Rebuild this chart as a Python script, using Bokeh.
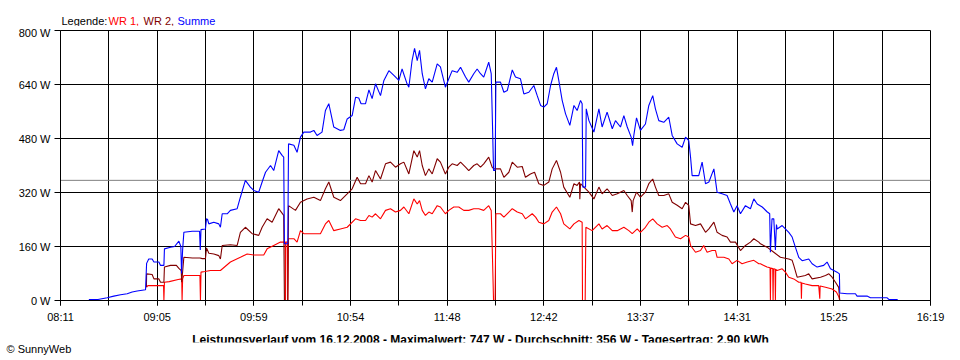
from bokeh.plotting import figure
from bokeh.layouts import column
from bokeh.models import FixedTicker, Span, PrintfTickFormatter, Range1d, Title
from bokeh.core.properties import value
from bokeh.embed import file_html
from bokeh.resources import INLINE

# time axis in minutes after midnight
X_START = 491   # 08:11
X_END = 979     # 16:19
X_TICK_LABELS = ["08:11", "09:05", "09:59", "10:54", "11:48",
                 "12:42", "13:37", "14:31", "15:25", "16:19"]
Y_TICKS = [0, 160, 320, 480, 640, 800]
AVERAGE_W = 356
LEGEND_TEXTS = ["Legende:", "WR 1,", "WR 2,", "Summe"]
LEGEND_COLORS = ["black", "#ff0000", "#800000", "#0000ff"]
FOOTER = ("Leistungsverlauf vom 16.12.2008 - Maximalwert: 747 W - "
          "Durchschnitt: 356 W - Tagesertrag: 2,90 kWh")
COPYRIGHT = "\u00a9 SunnyWeb"

# (minute, watt)
WR1 = [(539.2,39),(540.0,44),(548.8,44),(549.0,0),(549.3,54),(552.0,56),(557.0,62),(559.0,64),(559.2,0),
       (559.5,64),(560.2,74),(569.2,74),(569.5,0),(569.8,84),(572.0,86),(575.1,89),(580.7,89),(586.3,114),
       (591.9,128),(595.7,138),(599.4,135),(605.0,135),(606.9,153),(610.6,163),(614.4,173),(617.0,173),
       (617.2,0),(617.4,173),(618.3,173),(618.5,0),(618.8,183),(621.9,183),(623.7,173),(625.6,207),
       (627.5,198),(636.8,198),(639.6,227),(641.5,237),(644.3,207),(648.0,212),(651.8,217),(656.5,242),
       (659.3,237),(662.1,237),(664.0,252),(665.8,247),(667.7,257),(670.5,242),(673.3,267),(676.1,272),
       (678.9,262),(681.7,267),(683.6,277),(686.4,257),(689.2,301),(691.1,286),(692.4,296),(693.9,267),
       (695.7,252),(697.6,262),(699.5,257),(702.3,281),(704.1,277),(706.9,257),(708.8,267),(711.6,277),
       (714.4,277),(717.2,267),(720.0,267),(722.8,272),(725.6,272),(728.4,267),(731.2,281),(732.6,267),
       (733.3,128),(733.9,0),(734.8,0),(735.2,257),(737.8,257),(739.7,247),(744.4,272),(747.2,262),
       (750.0,257),(751.8,242),(755.6,257),(757.5,247),(759.3,232),(762.1,227),(764.9,237),(766.8,262),
       (769.2,277),(771.5,257),(773.3,227),(776.7,212),(779.0,227),(781.8,237),(783.6,232),(783.8,0),
       (785.3,0),(785.7,217),(789.2,207),(793.0,227),(794.8,212),(797.6,222),(800.5,207),(803.3,207),
       (807.0,217),(809.8,207),(811.7,198),(814.5,212),(816.3,202),(819.1,217),(821.0,232),(823.2,242),
       (825.7,227),(828.5,217),(831.3,222),(833.1,212),(835.9,188),(838.8,183),(841.6,193),(843.4,188),
       (844.4,163),(847.2,143),(850.0,148),(851.8,163),(853.7,143),(856.5,148),(858.4,148),(859.3,128),
       (863.1,128),(865.9,123),(867.7,109),(870.5,119),(873.3,109),(876.2,114),(879.9,119),(882.7,109),
       (883.6,109),(885.5,104),(887.3,99),(889.0,97),(889.2,0),(889.4,96),(890.5,95),(890.7,0),(890.9,94),
       (891.8,93),(892.0,0),(892.2,92),(893.0,89),(895.8,94),(897.6,84),(899.5,69),(902.3,64),(905.1,54),
       (906.4,54),(906.6,5),(906.8,52),(908.8,49),(912.6,44),(916.3,44),(916.9,5),(917.1,43),(920.1,39),
       (923.8,34),(926.2,25),(927.5,12),(928.1,0)]

WR2 = [(539.2,40),(539.3,79),(542.4,77),(543.4,64),(546.2,64),(547.1,54),(549.0,54),(549.3,99),(552.7,104),
       (556.0,104),(557.4,95),(558.7,89),(559.0,54),(559.5,85),(560.2,128),(565.0,126),(569.2,126),
       (570.5,124),(572.3,124),(572.9,156),(574.2,140),(577.0,138),(579.8,133),(580.7,123),(581.7,163),
       (586.3,165),(590.1,163),(591.9,202),(594.7,217),(598.5,198),(602.2,193),(604.1,217),(606.9,242),
       (609.7,232),(613.4,272),(616.2,252),(616.6,0),(618.5,0),(618.9,281),(622.8,267),(625.6,291),
       (629.3,301),(633.1,306),(636.8,296),(639.6,331),(641.5,351),(644.3,306),(648.0,296),(651.8,316),
       (654.6,331),(657.4,365),(659.3,346),(662.1,346),(664.0,370),(665.8,351),(667.7,385),(670.5,360),
       (673.3,405),(676.1,410),(678.9,395),(681.7,405),(683.6,410),(686.4,375),(689.2,444),(691.1,425),
       (692.4,444),(693.9,400),(695.7,370),(697.6,390),(699.5,375),(702.3,420),(704.1,410),(706.9,375),
       (708.8,395),(710.7,405),(713.5,400),(715.4,410),(718.2,395),(720.0,385),(722.8,400),(724.7,405),
       (726.6,395),(728.4,405),(731.2,425),(733.1,395),(734.1,390),(737.8,390),(739.7,365),(742.5,380),
       (744.4,410),(747.2,395),(750.0,397),(751.8,365),(754.6,375),(756.9,380),(759.3,346),(762.1,341),
       (764.9,351),(766.8,390),(769.2,415),(771.5,380),(773.3,336),(776.7,306),(779.0,346),(780.8,341),
       (782.1,351),(782.3,300),(782.7,346),(784.6,336),(787.4,321),(790.2,301),(793.0,336),(794.8,316),
       (797.6,331),(800.5,311),(803.3,316),(807.0,326),(808.9,311),(811.1,296),(811.7,262),(812.2,296),
       (814.1,321),(816.3,306),(819.1,321),(821.0,346),(823.2,360),(824.7,336),(826.6,311),(829.4,311),
       (832.2,316),(834.1,291),(836.9,282),(839.7,272),(841.6,291),(843.4,282),(844.4,227),(847.2,222),
       (850.0,227),(852.8,202),(854.7,212),(857.5,232),(859.3,202),(862.1,193),(864.9,188),(866.8,173),
       (869.6,173),(872.4,148),(875.2,163),(878.0,173),(879.9,183),(882.7,173),(883.6,168),(887.3,158),
       (891.1,143),(894.8,128),(899.5,123),(901.4,119),(902.3,104),(904.2,69),(908.8,74),(910.7,79),
       (912.6,64),(917.3,69),(920.1,74),(922.0,79),(923.8,69),(925.7,54),(927.5,39),(928.1,0)]

SUMME = [(506.9,3),(512.0,3),(517.2,8),(520.9,13),(524.7,17),(528.4,20),(531.2,25),(534.0,28),(538.7,32),
         (539.3,110),(540.5,123),(542.4,123),(543.4,114),(546.2,114),(547.1,104),(549.0,104),(549.3,153),
         (552.7,158),(555.0,160),(557.4,176),(558.5,160),(558.9,80),(559.5,150),(560.2,202),(564.9,205),
         (569.0,205),(569.4,150),(569.8,210),(572.3,212),(572.9,242),(573.5,240),(574.2,227),(577.0,232),
         (579.8,227),(580.7,217),(581.7,257),(584.5,257),(586.3,267),(590.1,272),(591.9,306),(594.7,356),
         (597.5,336),(599.4,326),(602.2,321),(604.1,351),(606.0,380),(608.8,400),(610.6,385),(613.4,444),
         (615.3,430),(616.2,425),(616.6,168),(618.5,168),(618.9,464),(621.9,460),(623.7,439),(625.6,484),
         (627.5,499),(631.2,499),(633.1,504),(634.9,489),(637.7,499),(639.6,563),(641.5,583),(644.3,514),
         (648.0,504),(649.9,506),(651.8,538),(654.6,548),(656.5,602),(658.3,600),(659.6,583),(662.1,583),
         (664.0,624),(665.8,598),(667.7,642),(670.5,607),(672.4,652),(675.2,681),(678.0,667),(680.8,652),
         (682.6,686),(685.4,642),(686.4,632),(688.2,711),(689.6,747),(691.1,711),(692.4,741),(693.9,672),
         (695.7,627),(697.6,657),(699.5,647),(702.3,701),(704.1,692),(706.9,632),(708.8,657),(710.7,681),
         (713.5,676),(715.4,691),(718.2,662),(720.0,647),(722.8,672),(724.7,686),(726.6,672),(728.4,662),
         (731.2,706),(732.6,672),(733.3,523),(733.9,385),(734.8,385),(735.2,647),(737.8,647),(739.7,617),
         (741.6,622),(744.4,683),(746.2,662),(749.0,657),(750.9,612),(753.7,617),(756.5,637),(758.4,607),
         (760.3,578),(762.1,573),(764.0,583),(765.9,637),(767.7,672),(769.2,691),(770.5,652),(772.4,593),
         (774.3,553),(776.7,519),(779.0,578),(780.8,563),(782.7,593),(783.6,583),(784.0,336),(785.5,336),
         (785.9,568),(787.4,533),(790.2,499),(793.0,568),(794.8,514),(797.6,558),(800.5,509),(802.3,533),
         (805.1,514),(807.0,548),(808.9,514),(811.1,484),(811.9,459),(812.6,490),(814.1,541),(816.3,504),
         (819.1,523),(821.0,578),(823.2,607),(824.7,568),(826.6,533),(829.4,528),(832.2,543),(834.1,489),
         (836.9,464),(839.7,454),(841.6,484),(843.4,474),(844.4,425),(845.3,370),(849.0,370),(850.9,410),
         (852.8,346),(854.7,351),(857.5,390),(859.3,321),(862.1,316),(864.9,311),(866.8,286),(868.7,262),
         (870.5,281),(872.4,257),(875.2,281),(878.0,272),(879.9,301),(881.8,286),(884.6,277),(887.3,263),
         (888.8,257),(889.2,143),(890.1,242),(891.1,242),(892.0,150),(892.6,225),(893.0,212),(895.8,222),
         (897.6,212),(899.5,202),(901.4,188),(903.2,158),(905.1,128),(907.0,118),(910.7,123),(912.6,109),
         (915.4,99),(919.1,104),(921.0,114),(922.9,94),(926.6,84),(927.9,79),(928.1,22),(932.2,20),
         (936.9,20),(937.8,13),(943.4,13),(945.3,8),(954.7,8),(955.6,3),(960.6,3)]

FONT = "Liberation Sans"
W = 960
LEFT, RIGHT, FRAME_W = 60, 30, 870
HEADER_H = 26
FOOTER_FRAME_H = 16


def text_strip(frame_h, bottom=0):
    # frame spans page x 60..930 (aligned with the chart frame); x range in page pixels
    f = figure(width=W, frame_width=FRAME_W, frame_height=frame_h,
               output_backend="svg", toolbar_location=None,
               x_range=Range1d(LEFT, LEFT + FRAME_W), y_range=Range1d(frame_h, 0),
               x_axis_location=None, y_axis_location=None,
               min_border_left=LEFT, min_border_right=RIGHT,
               min_border_top=0, min_border_bottom=bottom)
    f.outline_line_color = None
    f.grid.visible = False
    f.background_fill_color = "white"
    f.border_fill_color = "white"
    return f


# ---- header with coloured legend
header = text_strip(HEADER_H)
header.text(x=[61, 108, 143, 177], y=[20.5] * 4, text=LEGEND_TEXTS, text_color=LEGEND_COLORS,
            text_font=value(FONT), text_font_size=value("11px"), text_baseline="alphabetic",
            text_align="left")

# ---- main chart
p = figure(width=W, frame_width=FRAME_W, frame_height=270,
           output_backend="svg", toolbar_location=None,
           x_range=Range1d(X_START, X_END), y_range=Range1d(0, 800),
           min_border_left=LEFT, min_border_right=RIGHT, min_border_top=4, min_border_bottom=26)
p.background_fill_color = "white"
p.border_fill_color = "white"
p.outline_line_color = "black"

n_div = 18
all_ticks = [X_START + k * (X_END - X_START) / n_div for k in range(n_div + 1)]
major_ticks = all_ticks[::2]
p.xaxis.ticker = FixedTicker(ticks=major_ticks, minor_ticks=all_ticks)
p.xaxis.major_label_overrides = dict(zip(major_ticks, X_TICK_LABELS))
p.yaxis.ticker = FixedTicker(ticks=Y_TICKS)
p.yaxis.formatter = PrintfTickFormatter(format="%d W")

for ax in (p.xaxis[0], p.yaxis[0]):
    ax.axis_line_color = "black"
    ax.major_tick_line_color = "black"
    ax.minor_tick_line_color = "black"
    ax.major_tick_in = 0
    ax.minor_tick_in = 0
    ax.major_label_text_font = FONT
    ax.major_label_text_font_size = "11px"
    ax.major_label_text_color = "black"
p.xaxis.major_tick_out = 5
p.xaxis.minor_tick_out = 5
p.xaxis.major_label_standoff = 5
p.yaxis.major_tick_out = 6
p.yaxis.minor_tick_line_color = None
p.yaxis.major_label_standoff = 4

p.grid.grid_line_color = "black"
p.grid.grid_line_width = 1
p.xgrid.minor_grid_line_color = "black"

p.add_layout(Span(location=AVERAGE_W, dimension="width", line_color="#808080",
                  line_width=1, level="underlay"))

for data, color in ((WR1, "#ff0000"), (WR2, "#800000"), (SUMME, "#0000ff")):
    p.line([d[0] for d in data], [d[1] for d in data], line_color=color, line_width=1.1)

# ---- footer
footer = text_strip(FOOTER_FRAME_H, bottom=18)
footer.text(x=[480], y=[13], text=[FOOTER], text_color="black", text_font=value(FONT),
            text_font_size=value("12px"), text_font_style="bold",
            text_baseline="alphabetic", text_align="center")
footer.add_layout(Title(text=COPYRIGHT, align="left", offset=-54, standoff=0,
                        vertical_align="top", text_font=FONT, text_font_size="11px",
                        text_font_style="normal", text_color="black"), "below")

layout = column(header, p, footer, spacing=0)
open("out.html", "w").write(file_html(layout, INLINE))
